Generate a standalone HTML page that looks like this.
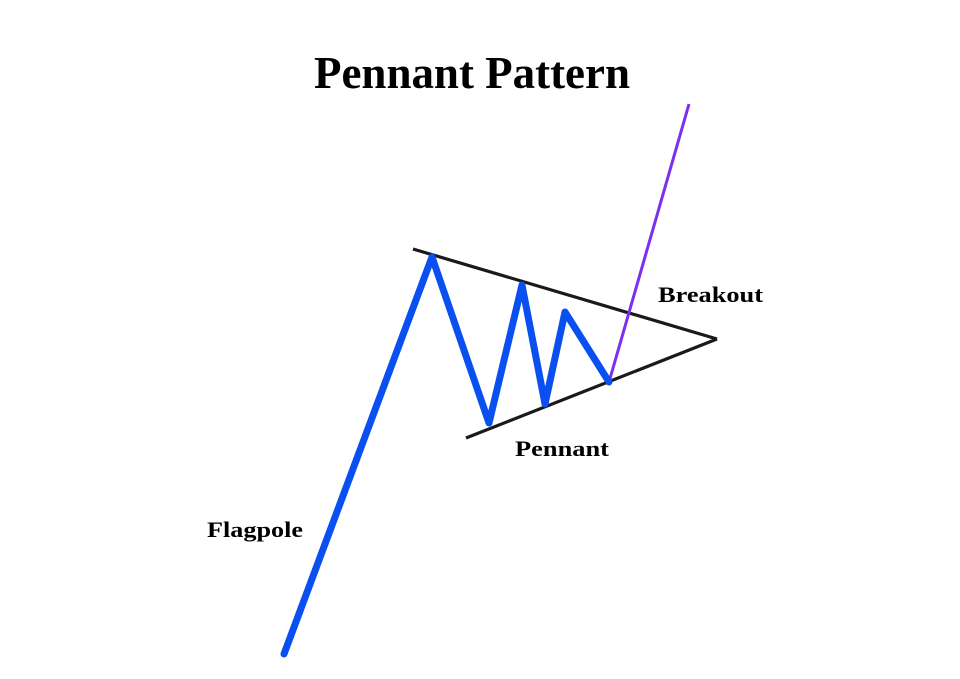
<!DOCTYPE html>
<html><head><meta charset="utf-8"><style>
html,body{margin:0;padding:0;background:#fff;}
svg{display:block;}
text{font-family:"Liberation Serif",serif;font-weight:bold;fill:#000;}
</style></head><body>
<svg width="960" height="679" viewBox="0 0 960 679">
<rect width="960" height="679" fill="#fff"/>
<text x="314" y="88" font-size="45" textLength="316" lengthAdjust="spacingAndGlyphs">Pennant Pattern</text>
<line x1="413" y1="249" x2="717" y2="339" stroke="#1a1a1a" stroke-width="3.2"/>
<line x1="466" y1="438" x2="717" y2="339" stroke="#1a1a1a" stroke-width="3.2"/>
<line x1="609" y1="382" x2="689" y2="104" stroke="#7b2ff0" stroke-width="3"/>
<polyline points="284,654 432,257 489,423 522,285 545,404 565,312 609,382" fill="none" stroke="#0a4ff0" stroke-width="7" stroke-linejoin="round" stroke-linecap="round"/>
<text x="658" y="302" font-size="22" textLength="105" lengthAdjust="spacingAndGlyphs">Breakout</text>
<text x="515" y="456" font-size="22" textLength="94" lengthAdjust="spacingAndGlyphs">Pennant</text>
<text x="207" y="537" font-size="22" textLength="96" lengthAdjust="spacingAndGlyphs">Flagpole</text>
</svg>
</body></html>
